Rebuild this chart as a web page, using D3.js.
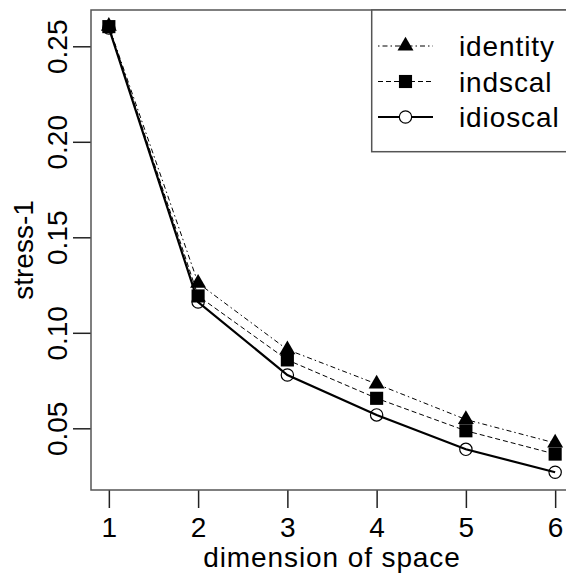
<!DOCTYPE html>
<html>
<head>
<meta charset="utf-8">
<script src="https://cdn.jsdelivr.net/npm/d3@7"></script>
<style>
  body { margin: 0; background: #fff; }
  svg { display: block; font-family: "Liberation Sans", Arial, sans-serif; }
</style>
</head>
<body>
<svg id="chart" width="566" height="574"></svg>
<script>
// --- Data ---
const dims = [1, 2, 3, 4, 5, 6];
const identity = [0.2605, 0.126, 0.0912, 0.0732, 0.0546, 0.0423];
const indscal = [0.2603, 0.1193, 0.0858, 0.0657, 0.0487, 0.0365];
const idioscal = [0.2596, 0.1161, 0.0779, 0.057, 0.039, 0.027];
const seriesNames = ["identity", "indscal", "idioscal"];
const xTicks = [1, 2, 3, 4, 5, 6];
const yTicks = [0.05, 0.10, 0.15, 0.20, 0.25];
const xDomain = [0.8, 6.2];
const yDomain = [0.0177, 0.269];

const svg = d3.select("#chart");
const margin = { top: 10, left: 91 };
const innerWidth = 482;
const innerHeight = 480;
const fontSize = 28;
const boxColor = "#555";

const g = svg.append("g").attr("transform", `translate(${margin.left},${margin.top})`);

// --- Scales ---
const x = d3.scaleLinear().domain(xDomain).range([0, innerWidth]);
const y = d3.scaleLinear().domain(yDomain).range([innerHeight, 0]);

const series = [
  { name: seriesNames[0], values: identity, dash: "1.5,3,5,3", width: 1, shape: d3.symbolTriangle, size: 110, fill: "#000" },
  { name: seriesNames[1], values: indscal, dash: "5,3", width: 1, shape: d3.symbolSquare, size: 172, fill: "#000" },
  { name: seriesNames[2], values: idioscal, dash: null, width: 2.2, shape: d3.symbolCircle, size: Math.PI * 38, fill: "none" }
];

// --- Axes ---
const xAxis = g.append("g")
  .attr("transform", `translate(0,${innerHeight})`)
  .call(d3.axisBottom(x).tickValues(xTicks).tickSize(18).tickFormat(d3.format("d")));
xAxis.select(".domain").remove();
xAxis.selectAll("line").attr("stroke", "#222").attr("stroke-width", 1.5);
xAxis.selectAll("text")
  .attr("y", 47).attr("dy", 0)
  .attr("font-size", fontSize).attr("font-family", null).attr("fill", "#000");

const yAxis = g.append("g")
  .call(d3.axisLeft(y).tickValues(yTicks).tickSize(18).tickFormat(d3.format(".2f")));
yAxis.select(".domain").remove();
yAxis.selectAll("line").attr("stroke", "#222").attr("stroke-width", 1.5);
yAxis.selectAll("text")
  .attr("transform", "rotate(-90)")
  .attr("x", 0).attr("y", -24.3).attr("dy", 0)
  .attr("text-anchor", "middle")
  .attr("font-size", fontSize).attr("font-family", null).attr("fill", "#000");

// --- Lines + points ---
const line = d3.line()
  .x((d, i) => x(dims[i]))
  .y(d => y(d));

series.forEach(s => {
  g.append("path")
    .datum(s.values)
    .attr("fill", "none")
    .attr("stroke", "#000")
    .attr("stroke-width", s.width)
    .attr("stroke-dasharray", s.dash)
    .attr("d", line);
});

series.forEach(s => {
  g.selectAll(null)
    .data(s.values)
    .join("path")
    .attr("transform", (d, i) => `translate(${x(dims[i])},${y(d)})`)
    .attr("d", d3.symbol(s.shape, s.size))
    .attr("fill", s.fill)
    .attr("stroke", s.fill === "none" ? "#000" : null)
    .attr("stroke-width", 1.2);
});

// --- Box ---
g.append("rect")
  .attr("width", innerWidth)
  .attr("height", innerHeight)
  .attr("fill", "none")
  .attr("stroke", boxColor)
  .attr("stroke-width", 1.5);

// --- Legend ---
const legend = svg.append("g");
legend.append("rect")
  .attr("x", 371.7).attr("y", margin.top)
  .attr("width", margin.left + innerWidth - 371.7)
  .attr("height", 141.7)
  .attr("fill", "#fff")
  .attr("stroke", boxColor)
  .attr("stroke-width", 1.5);

const items = legend.selectAll(".legend-item")
  .data(series)
  .join("g")
  .attr("class", "legend-item")
  .attr("transform", (_, i) => `translate(0,${46 + i * 35.5})`);

items.append("line")
  .attr("x1", 378).attr("x2", 433)
  .attr("stroke", "#000")
  .attr("stroke-width", d => d.width)
  .attr("stroke-dasharray", d => d.dash);

items.append("path")
  .attr("transform", "translate(405.5,0)")
  .attr("d", d => d3.symbol(d.shape, d.size)())
  .attr("fill", d => d.fill === "none" ? "#fff" : d.fill)
  .attr("stroke", d => d.fill === "none" ? "#000" : null)
  .attr("stroke-width", 1.2);

items.append("text")
  .attr("x", 459)
  .attr("y", 10)
  .attr("font-size", fontSize)
  .style("letter-spacing", "0.9px")
  .text(d => d.name);

// --- Axis labels ---
svg.append("text")
  .attr("x", margin.left + innerWidth / 2)
  .attr("y", 567)
  .attr("text-anchor", "middle")
  .attr("font-size", fontSize)
  .style("letter-spacing", "0.9px")
  .text("dimension of space");

svg.append("text")
  .attr("transform", "rotate(-90)")
  .attr("x", -(margin.top + innerHeight / 2))
  .attr("y", 33)
  .attr("text-anchor", "middle")
  .attr("font-size", fontSize)
  .text("stress-1");
</script>
</body>
</html>
